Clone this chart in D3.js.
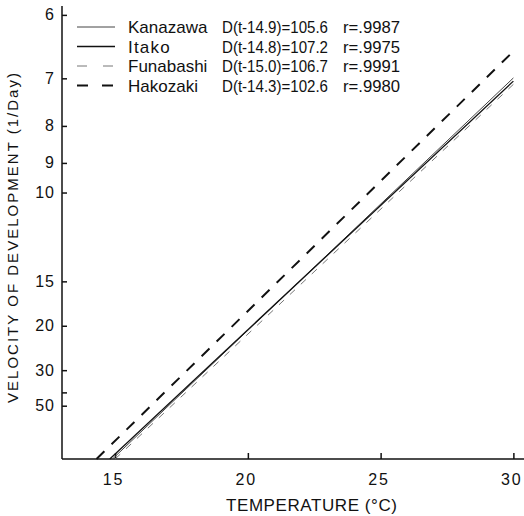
<!DOCTYPE html>
<html>
<head>
<meta charset="utf-8">
<script src="https://cdn.jsdelivr.net/npm/d3@7"></script>
<style>
  body { margin: 0; background: #fff; }
  svg text { font-family: "Liberation Sans", Arial, sans-serif; fill: #111; }
</style>
</head>
<body>
<svg id="chart" width="524" height="516"></svg>
<script>
// Data
const sites = ['Kanazawa', 'Itako', 'Funabashi', 'Hakozaki'];
const formulas = ['D(t-14.9)=105.6', 'D(t-14.8)=107.2', 'D(t-15.0)=106.7', 'D(t-14.3)=102.6'];
const rValues = ['r=.9987', 'r=.9975', 'r=.9991', 'r=.9980'];
const tStart = [14.9, 14.8, 15.0, 14.3];     // temperature where each line meets zero velocity
const tEnd = [30, 30, 30, 30];
const vEnd = [0.143, 0.1418, 0.1406, 0.153]; // velocity (1/day) at 30 degC
const dayTicks = [6, 7, 8, 9, 10, 15, 20, 30, 40, 50];
const dayLabels = ['6', '7', '8', '9', '10', '15', '20', '30', '', '50'];
const tempTicks = [15, 20, 25, 30];

// line styles per site
const styles = [
    { color: '#444', width: 1, dash: null, legendDash: null },
    { color: '#111', width: 1.3, dash: null, legendDash: null },
    { color: '#777', width: 1, dash: '7,8', legendDash: '10,16' },
    { color: '#111', width: 2, dash: '11,10', legendDash: '11,14' }
];

const svg = d3.select('#chart');

const x = d3.scaleLinear().domain([13, 30.4]).range([62, 524]);
const y = d3.scaleLinear().domain([0, 0.170]).range([459, 6]);

// axes, ticks pointing inward
const yAxis = d3.axisRight(y)
    .tickValues(dayTicks.map(d => 1 / d))
    .tickSize(5)
    .tickFormat('');
const gy = svg.append('g').attr('transform', 'translate(62,0)').call(yAxis);
gy.select('.domain').attr('d', `M0,${y.range()[1]}V${y.range()[0]}`);

const xAxis = d3.axisTop(x).tickValues(tempTicks).tickSize(6).tickFormat('');
const gx = svg.append('g').attr('transform', 'translate(0,459)').call(xAxis);
gx.select('.domain').attr('d', `M${x.range()[0]},0H${x.range()[1]}`);

svg.selectAll('.domain, .tick line').attr('stroke', '#111').attr('stroke-width', 1.5);

// y tick labels (days)
svg.append('g').selectAll('text')
    .data(dayTicks)
    .enter()
    .append('text')
    .attr('x', 55)
    .attr('y', d => y(1 / d) + 5.5)
    .attr('text-anchor', 'end')
    .attr('font-size', 16)
    .attr('letter-spacing', 1)
    .text((d, i) => dayLabels[i]);

// x tick labels
svg.append('g').selectAll('text')
    .data(tempTicks)
    .enter()
    .append('text')
    .attr('x', d => x(d) - 1.5)
    .attr('y', 485)
    .attr('text-anchor', 'middle')
    .attr('font-size', 16)
    .attr('letter-spacing', 2)
    .text(d => d);

// axis titles
svg.append('text')
    .attr('x', 226)
    .attr('y', 511)
    .attr('font-size', 17)
    .attr('textLength', 171)
    .attr('lengthAdjust', 'spacing')
    .text('TEMPERATURE (°C)');

svg.append('text')
    .attr('transform', 'translate(18,403) rotate(-90)')
    .attr('font-size', 15)
    .attr('textLength', 330)
    .attr('lengthAdjust', 'spacing')
    .text('VELOCITY OF DEVELOPMENT (1/Day)');

// regression lines
svg.append('g').selectAll('line')
    .data(sites)
    .enter()
    .append('line')
    .attr('x1', (d, i) => x(tStart[i]))
    .attr('y1', y(0))
    .attr('x2', (d, i) => x(tEnd[i]))
    .attr('y2', (d, i) => y(vEnd[i]))
    .attr('stroke', (d, i) => styles[i].color)
    .attr('stroke-width', (d, i) => styles[i].width)
    .attr('stroke-dasharray', (d, i) => styles[i].dash);

// legend
const legend = svg.append('g').selectAll('g')
    .data(sites)
    .enter()
    .append('g')
    .attr('transform', (d, i) => `translate(0,${27 + i * 19.5})`);

legend.append('line')
    .attr('x1', 77).attr('x2', 115)
    .attr('stroke', (d, i) => styles[i].color)
    .attr('stroke-width', (d, i) => styles[i].width)
    .attr('stroke-dasharray', (d, i) => styles[i].legendDash);

legend.append('text')
    .attr('x', 128).attr('y', 6)
    .attr('font-size', 17)
    .attr('letter-spacing', (d, i) => i === 1 ? 1.2 : 0)
    .text(d => d);

legend.append('text')
    .attr('x', 222).attr('y', 6)
    .attr('font-size', 17)
    .attr('textLength', 106)
    .attr('lengthAdjust', 'spacingAndGlyphs')
    .text((d, i) => formulas[i]);

legend.append('text')
    .attr('x', 343).attr('y', 6)
    .attr('font-size', 17)
    .attr('textLength', 57)
    .attr('lengthAdjust', 'spacingAndGlyphs')
    .text((d, i) => rValues[i]);
</script>
</body>
</html>
